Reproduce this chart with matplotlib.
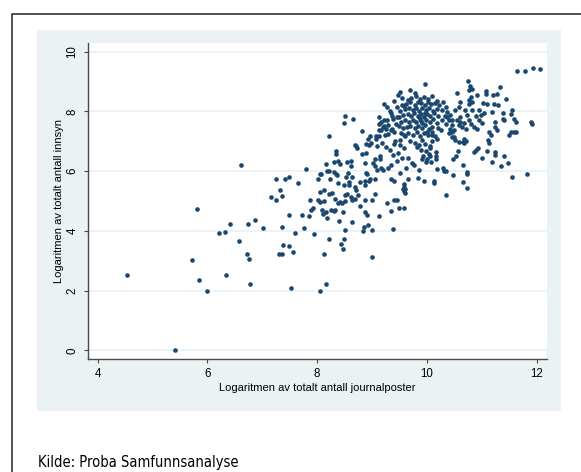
import matplotlib
matplotlib.use("Agg")
import matplotlib.pyplot as plt
from matplotlib.patches import Rectangle
from matplotlib.lines import Line2D
from matplotlib import font_manager

# log of total journal entries (x) vs log of total access requests (y)
left_x = [4.54, 5.42, 5.72, 5.82, 5.84, 6.00, 6.21, 6.32, 6.41, 6.34, 6.57, 6.62, 6.73, 6.76, 6.75, 6.87,
          6.77, 7.02, 7.16, 7.25, 7.25, 7.33, 7.36, 7.42, 7.48, 7.36, 7.38, 7.30, 7.36, 7.48, 7.49]
left_y = [2.52, 0.01, 3.02, 4.72, 2.34, 1.97, 3.93, 3.95, 4.22, 2.52, 3.66, 6.21, 3.23, 3.05, 4.22, 4.36,
          2.21, 4.11, 5.14, 5.03, 5.72, 5.36, 5.16, 5.74, 5.80, 4.13, 3.53, 3.21, 3.23, 3.50, 4.53]

mid_x = [7.56, 7.59, 7.53, 7.66, 7.73, 7.76, 7.80, 7.85, 7.87, 7.89, 7.93, 7.95, 8.01, 8.02, 8.06, 8.16,
         8.12, 8.22, 8.06, 8.12, 8.06, 8.12, 8.08, 8.09, 8.17, 8.19, 8.16, 8.19, 8.22, 8.22, 8.24, 8.25,
         8.27, 8.30, 8.30, 8.32, 8.35, 8.35, 8.35, 8.38, 8.38, 8.41, 8.30, 8.40, 8.43, 8.47, 8.49, 8.51,
         8.48, 8.49, 8.51, 8.54, 8.61, 8.65, 8.06, 8.36, 8.38, 8.49, 8.58, 8.52, 8.63, 8.55, 8.62, 8.70,
         8.79, 8.88, 8.97, 8.91, 8.21, 8.32, 8.11, 8.46, 8.41, 8.70, 8.63, 8.91, 8.83, 8.85, 9.00, 9.00,
         8.82, 8.71, 8.92, 8.98, 8.70, 8.73, 8.82, 8.90, 8.87, 8.90, 8.94, 8.90, 8.97, 8.75, 8.88, 8.92,
         8.88, 8.61, 8.56, 8.58, 8.71, 8.51, 8.63, 8.50, 8.78, 8.88, 8.95]
mid_y = [3.29, 3.93, 2.10, 5.61, 4.53, 4.10, 6.07, 4.49, 5.03, 4.69, 4.77, 3.91, 5.05, 5.75, 1.97, 2.21,
         3.23, 3.72, 5.31, 5.38, 4.97, 5.00, 5.90, 4.69, 4.64, 4.44, 6.25, 6.01, 5.99, 7.17, 5.75, 4.71,
         5.28, 6.29, 4.66, 5.08, 6.68, 6.59, 5.89, 6.33, 4.94, 6.25, 5.97, 4.33, 3.56, 3.39, 3.72, 4.04,
         4.63, 7.61, 7.84, 6.31, 6.33, 7.74, 5.92, 5.86, 5.61, 5.53, 5.64, 5.81, 5.81, 5.25, 5.14, 5.47,
         5.64, 5.67, 5.75, 5.92, 5.25, 4.69, 4.56, 4.94, 4.97, 5.08, 4.30, 4.53, 4.00, 4.14, 4.02, 3.11,
         7.35, 6.83, 7.06, 6.95, 6.87, 6.76, 6.59, 6.61, 6.27, 5.94, 6.87, 6.92, 7.17, 5.20, 5.55, 4.21,
         4.64, 6.16, 5.94, 5.55, 5.38, 5.21, 5.04, 4.99, 4.82, 5.04, 5.66]

upper_x = [9.13, 9.39, 9.34, 9.45, 9.58, 9.60, 9.60, 9.09, 9.16, 9.06, 9.34, 9.40, 9.59, 9.59, 9.28, 9.41,
           9.00, 9.06, 9.50, 9.08, 9.12, 9.22, 9.22, 9.28, 9.52, 9.48, 9.46, 9.34, 9.16, 9.22, 9.28, 9.39,
           9.43, 9.20, 9.25, 9.37, 9.40, 9.13, 9.07, 9.58, 9.52, 9.13, 9.16, 9.24, 9.41, 9.53, 9.14, 9.02,
           9.58, 9.52, 9.29, 9.35, 9.20, 9.45, 9.06, 9.05, 9.15, 9.32, 9.42, 9.52, 9.30, 9.34, 9.59, 9.25,
           9.38, 9.48, 9.10, 9.18, 9.32, 9.40, 9.55, 9.36, 9.45, 9.50, 9.12, 9.30, 9.55]
upper_y = [4.49, 4.06, 4.66, 5.04, 4.77, 5.27, 5.40, 6.03, 6.09, 5.75, 5.75, 5.67, 5.58, 5.47, 4.92, 5.03,
           5.05, 5.25, 4.75, 7.17, 7.39, 7.51, 8.25, 8.14, 8.65, 8.56, 8.15, 7.95, 7.65, 7.70, 7.70, 7.73,
           7.59, 7.48, 7.42, 7.42, 7.31, 7.17, 7.09, 7.20, 7.03, 7.57, 7.39, 7.21, 6.92, 7.26, 6.39, 6.27,
           6.79, 5.94, 6.10, 6.20, 6.05, 6.35, 6.16, 6.39, 6.50, 6.72, 7.00, 6.87, 7.23, 7.37, 8.18, 6.80,
           6.55, 6.62, 6.85, 6.95, 8.00, 8.35, 8.45, 7.85, 7.80, 7.50, 7.82, 7.55, 6.45]

core_x = [9.72, 9.80, 9.88, 9.95, 10.03, 10.10, 9.65, 10.18, 9.78, 9.69, 9.97,
          9.62, 9.70, 9.78, 9.84, 9.90, 9.97, 10.02, 10.08, 10.15, 10.23, 9.55,
          9.60, 9.68, 9.74, 9.81, 9.86, 9.92, 9.98, 10.04, 10.11, 10.19, 9.52, 10.27,
          9.57, 9.65, 9.71, 9.77, 9.83, 9.89, 9.94, 10.00, 10.06, 10.13, 10.21, 9.50, 9.96, 9.86,
          9.60, 9.67, 9.74, 9.80, 9.87, 9.92, 9.99, 10.05, 10.12, 10.18, 9.53, 10.27, 9.90,
          9.63, 9.70, 9.78, 9.84, 9.91, 9.97, 10.04, 10.10, 9.56, 10.20,
          9.66, 9.74, 9.82, 9.88, 9.95, 10.02, 10.09, 9.60, 10.15,
          9.70, 9.78, 9.85, 9.92, 9.97, 10.05, 9.82, 10.10,
          9.93, 10.00, 10.06, 9.98, 10.06, 10.16, 9.73, 9.86, 9.62, 9.66, 9.65, 9.83, 9.59, 9.56,
          10.13, 10.29, 10.32, 9.94, 10.35, 9.76, 9.98,
          10.37, 10.34, 10.25, 10.01, 10.10, 10.18, 9.89, 10.04, 9.92, 10.07, 10.16, 10.16, 10.33,
          10.30, 10.35]
core_y = [8.45, 8.52, 8.40, 8.47, 8.42, 8.50, 8.38, 8.36, 8.62, 8.71, 8.93,
          8.25, 8.30, 8.22, 8.33, 8.27, 8.20, 8.31, 8.24, 8.28, 8.20, 8.22,
          8.08, 8.12, 8.03, 8.10, 8.00, 8.13, 8.05, 8.11, 8.02, 8.09, 8.01, 8.05,
          7.88, 7.92, 7.83, 7.95, 7.86, 7.92, 7.81, 7.90, 7.84, 7.93, 7.85, 7.82, 7.96, 7.80,
          7.70, 7.63, 7.72, 7.66, 7.74, 7.62, 7.70, 7.65, 7.73, 7.61, 7.66, 7.70, 7.68,
          7.48, 7.52, 7.43, 7.50, 7.45, 7.53, 7.42, 7.49, 7.44, 7.45,
          7.28, 7.22, 7.31, 7.18, 7.26, 7.20, 7.30, 7.16, 7.17,
          7.02, 6.95, 6.88, 7.05, 6.92, 6.85, 6.80, 7.00,
          6.50, 6.39, 6.50, 6.67, 6.78, 6.50, 6.28, 6.05, 6.11, 6.44, 5.72, 5.77, 5.32, 5.40,
          5.66, 6.11, 6.00, 5.68, 5.20, 6.20, 6.31,
          7.98, 7.59, 7.37, 7.31, 7.20, 7.09, 6.70, 6.59, 6.39, 6.31, 6.42, 6.64, 7.84,
          8.30, 8.15]

right_x = [11.64, 11.79, 11.94, 12.06, 10.75, 10.78, 10.82, 10.76, 10.55, 11.34, 11.28, 11.07, 11.07,
           10.91, 10.80, 10.77, 10.83, 10.76, 10.61, 11.02, 11.10, 11.22, 11.29, 10.58, 10.52, 10.69,
           10.82, 10.95, 11.19, 11.38, 11.55, 11.53, 10.43, 10.61, 10.74, 10.89, 10.98, 11.59, 11.62,
           11.89, 11.91, 10.37, 10.40, 10.46, 10.55, 10.61, 10.68, 10.77, 10.80, 10.95, 11.01, 11.25,
           11.38, 11.41, 10.46, 10.43, 10.49, 10.58, 10.64, 10.72, 10.86, 10.92, 11.25, 11.28, 11.53,
           11.50, 11.59, 11.63, 10.40, 10.46, 10.52, 10.58, 10.68, 11.13, 11.16, 11.12, 10.46, 10.49,
           10.65, 10.68, 10.71, 10.86, 10.89, 10.93, 11.82, 11.56, 11.35, 11.47, 11.41, 11.18, 11.24,
           11.24, 11.10, 11.00, 11.13, 10.66, 10.73, 10.65, 10.73, 10.48, 10.34, 10.19, 10.13, 10.48,
           10.54, 10.56, 11.20, 11.05, 11.45, 10.73]
right_y = [9.34, 9.34, 9.46, 9.41, 9.02, 8.84, 8.76, 8.71, 8.63, 8.82, 8.59, 8.68, 8.59,
           8.54, 8.48, 8.37, 8.32, 8.26, 8.32, 8.28, 8.24, 8.26, 8.23, 8.15, 8.04, 8.04,
           8.04, 8.06, 7.98, 7.95, 8.06, 7.92, 7.87, 7.81, 7.87, 7.84, 7.89, 7.76, 7.65,
           7.65, 7.59, 7.81, 7.70, 7.72, 7.70, 7.65, 7.61, 7.72, 7.59, 7.70, 7.61, 7.65,
           7.76, 7.70, 7.54, 7.42, 7.37, 7.54, 7.48, 7.42, 7.48, 7.42, 7.48, 7.37, 7.31,
           7.20, 7.31, 7.31, 7.26, 7.14, 7.03, 6.98, 7.09, 7.31, 7.20, 7.03, 7.31, 7.15,
           6.98, 6.94, 7.01, 6.64, 6.72, 6.79, 5.92, 5.81, 6.16, 6.28, 6.52, 6.29, 6.63,
           6.53, 6.68, 6.44, 6.94, 6.20, 5.92, 5.64, 5.45, 5.88, 6.02, 6.07, 5.61, 6.39,
           6.50, 6.67, 8.55, 7.95, 8.40, 5.96]

xs = left_x + mid_x + upper_x + core_x + right_x
ys = left_y + mid_y + upper_y + core_y + right_y

x_ticks = [4, 6, 8, 10, 12]
y_ticks = [0, 2, 4, 6, 8, 10]
x_title = 'Logaritmen av totalt antall journalposter'
y_title = 'Logaritmen av totalt antall innsyn'
source_note = 'Kilde: Proba Samfunnsanalyse'

plt.rcParams['font.family'] = ['Liberation Sans', 'DejaVu Sans']

W, H = 581, 472
fig = plt.figure(figsize=(W / 100, H / 100), dpi=100)

# light bluish-grey panel behind the plot (Stata s2color look)
fig.patches.append(Rectangle((36.7 / W, 1 - 410.7 / H), (561 - 36.7) / W, (410.7 - 30) / H,
                             transform=fig.transFigure, facecolor='#eaf2f3', edgecolor='none', zorder=-5))
# frame line on top and left
fig.lines.append(Line2D([11.7 / W, 11.7 / W, 1.0], [0.0, 1 - 14.3 / H, 1 - 14.3 / H],
                        transform=fig.transFigure, color='#333333', lw=1.2, zorder=-4))

ax = fig.add_axes([88.3 / W, 1 - 359 / H, (546.5 - 88.3) / W, (359 - 42.7) / H])
ax.set_zorder(1)
ax.set_facecolor('white')
ax.scatter(xs, ys, s=11, color='#1a476f', linewidths=0, zorder=3)

ax.set_xlim(3.832, 12.18)
ax.set_ylim(-0.29, 10.30)
ax.set_xticks(x_ticks)
ax.set_yticks(y_ticks)
ax.set_yticklabels([str(t) for t in y_ticks], rotation=90, va='center')
ax.grid(axis='y', color='#eaf2f3', lw=1.3)
ax.set_axisbelow(True)

for side in ('top', 'right'):
    ax.spines[side].set_visible(False)
for side in ('left', 'bottom'):
    ax.spines[side].set_color('#4a4a4a')
    ax.spines[side].set_linewidth(1.0)
ax.tick_params(axis='both', length=3, width=0.8, color='#4a4a4a', labelsize=8.3, labelcolor='black')
ax.tick_params(axis='x', pad=3.4)
ax.tick_params(axis='y', pad=4.0)

ax.set_xlabel(x_title, fontsize=8)
ax.set_ylabel(y_title, fontsize=8)
ax.xaxis.set_label_coords(0.5, -0.076)
ax.yaxis.set_label_coords(-0.053, 0.5)

# narrow face for the source note if one is installed
note_font = font_manager.FontProperties(family='DejaVu Sans', stretch='condensed', size=10.5)
fig.text(37.7 / W, 1 - 467 / H, source_note, va='baseline', ha='left', fontproperties=note_font)

fig.savefig('out.png', dpi=100)
